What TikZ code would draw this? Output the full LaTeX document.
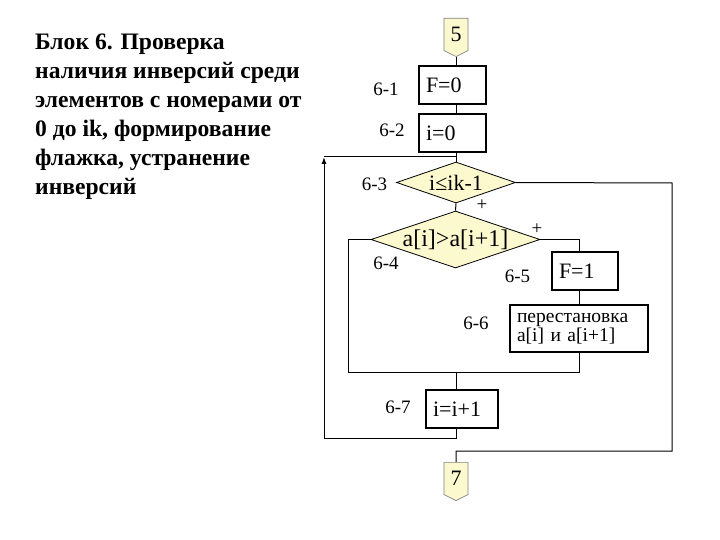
\documentclass[tikz,border=0pt]{standalone}
\usepackage{fontspec}
\setmainfont{Liberation Serif}
\usetikzlibrary{shapes.geometric,shapes.symbols,arrows.meta}
\definecolor{pale}{HTML}{FCF9CF}
\begin{document}
\begin{tikzpicture}[x=1pt,y=-1pt,
  every node/.style={inner sep=0},
  box/.style={draw, line width=2.2pt, inner xsep=7, align=left, minimum height=38, font=\fontsize{22}{24}\selectfont},
  dia/.style={diamond, draw, line width=0.8pt, fill=pale, aspect=3, font=\fontsize{22}{24}\selectfont},
  conn/.style={signal, signal to=south, signal pointer angle=127, draw=gray, line width=0.6pt, fill=pale, minimum width=24, minimum height=35, font=\fontsize{22}{24}\selectfont},
  lab/.style={font=\fontsize{19}{22}\selectfont},
  ln/.style={line width=1pt}]
\useasboundingbox (0,0) rectangle (720,540);

\node[anchor=north west, align=left, font=\bfseries\fontsize{23.6}{29}\selectfont] (title) at (35,34)
 {Блок 6. Проверка\\наличия инверсий среди\\элементов с номерами от\\0 до ik, формирование\\флажка, устранение\\инверсий};

\node[conn, anchor=north] (c5) at (456,18) {5};
\node[box, text width=53] (f0) at (452.5,85) {F=0};
\node[box, text width=53] (i0) at (452.5,133) {i=0};
\node[dia, minimum width=119, minimum height=41] (d1) at (456,182.5) {\makebox[0pt]{i≤ik-1}};
\node[dia, minimum width=169, minimum height=57, font=\fontsize{24}{26}\selectfont] (d2) at (455.5,239.5) {\makebox[0pt]{a[i]>a[i+1]}};
\node[box, text width=52] (f1) at (585,271) {F=1};
\node[box, text width=124, minimum height=47, font=\fontsize{19.5}{18.5}\selectfont] (p) at (579,328.5) {перестановка\\a[i] и a[i+1]};
\node[box, text width=58] (i7) at (462,409) {i=i+1};
\node[conn, anchor=north] (c7) at (456,462) {7};

\node[lab] (l61) at (386,89) {6-1};
\node[lab] (l62) at (392,130) {6-2};
\node[lab] (l63) at (374.5,184) {6-3};
\node[lab] (l64) at (386,263) {6-4};
\node[lab] (l65) at (517.5,276) {6-5};
\node[lab] (l66) at (476,323) {6-6};
\node[lab] (l67) at (398,407) {6-7};
\node[lab] (pl1) at (482,205) {+};
\node[lab] (pl2) at (537,229) {+};

\coordinate (jt) at (456,157);
\coordinate (lt) at (324,157);
\coordinate (lb) at (324,438);
\coordinate (r1) at (672,183);
\coordinate (r2) at (672,451);
\coordinate (l1) at (348,372);
\coordinate (jn) at (456,372);

\draw[ln] (c5.south) -- (c5.south |- f0.north);
\draw[ln] (f0.south -| c5.south) -- (i0.north -| c5.south);
\draw[ln] (i0.south -| d1.north) -- (d1.north);
\draw[ln] (d1.south) -- (d2.north);
\draw[ln] (d1.east) -- (r1) -- (r2) -| (c7.north);
\draw[ln] (d2.east) -| (f1.north -| p.north);
\draw[ln] (f1.south -| p.north) -- (p.north);
\draw[ln] (d2.west) -| (l1) -| (p.south);
\draw[ln] (jn) -- (i7.north -| jn);
\draw[ln, -{Latex[length=7,width=5]}] (i7.south -| jn) |- (lb) -- (lt);
\draw[ln] (lt) -- (jt);
\end{tikzpicture}
\end{document}
